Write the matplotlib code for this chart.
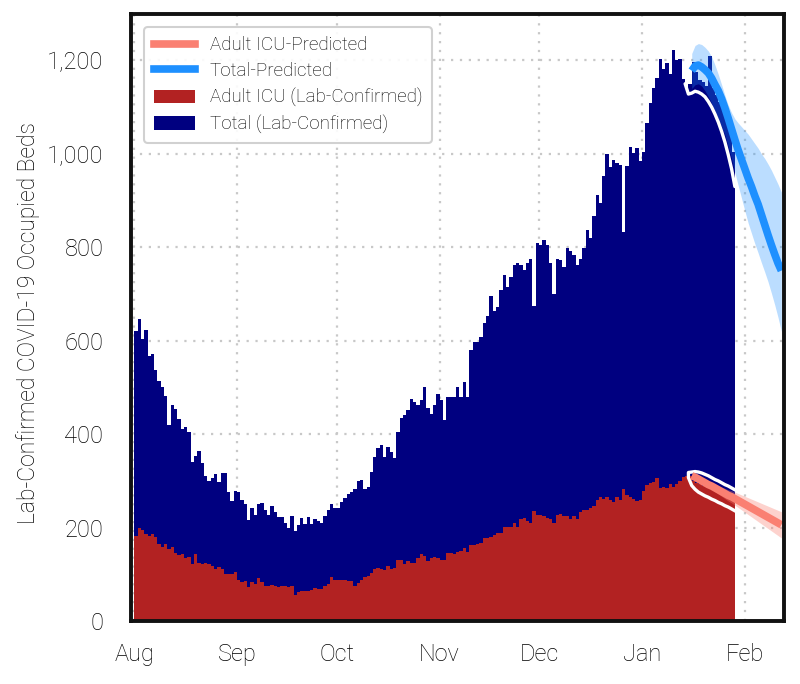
import matplotlib
matplotlib.use("Agg")
import matplotlib.pyplot as plt
import matplotlib.dates as mdates
import matplotlib.ticker as mticker
from matplotlib.lines import Line2D
from matplotlib.patches import Patch
import pandas as pd
import numpy as np

plt.rcParams['font.family'] = ['Roboto', 'DejaVu Sans']
plt.rcParams['font.weight'] = 'light'
plt.rcParams['axes.labelweight'] = 'light'

# ---------------- data ----------------
start_date = "2020-08-01"

total_confirmed = [
    621, 646, 603, 623, 567, 571, 538, 513, 502, 482,
    419, 462, 454, 432, 412, 415, 404, 341, 354, 363,
    339, 311, 300, 307, 314, 298, 316, 316, 277, 256,
    278, 276, 260, 251, 217, 243, 226, 251, 253, 237,
    226, 246, 233, 222, 222, 209, 200, 225, 193, 206,
    220, 208, 222, 207, 218, 215, 209, 224, 237, 251,
    242, 242, 255, 264, 271, 276, 283, 300, 301, 282,
    287, 318, 352, 370, 376, 352, 372, 361, 350, 404,
    435, 441, 451, 475, 468, 462, 473, 500, 455, 444,
    462, 487, 473, 430, 480, 480, 480, 502, 480, 511,
    480, 581, 598, 598, 607, 639, 654, 695, 663, 673,
    709, 740, 716, 737, 762, 767, 762, 751, 767, 774,
    675, 809, 805, 816, 805, 767, 699, 776, 773, 757,
    798, 792, 784, 763, 775, 798, 837, 820, 866, 911,
    894, 952, 999, 971, 987, 981, 977, 833, 974, 1015,
    1001, 1013, 985, 1005, 1067, 1108, 1141, 1163, 1204, 1182,
    1194, 1171, 1223, 1201, 1202, 1160, 1140, 1150, 1196, 1175,
    1157, 1153, 1146, 1210, 1140, 1125, 1110, 1095, 1080, 1060,
    1005,
]

icu_confirmed = [
    182, 199, 194, 186, 182, 186, 181, 165, 159, 164,
    155, 159, 146, 142, 144, 136, 137, 123, 144, 124,
    123, 124, 123, 117, 112, 116, 112, 100, 101, 100,
    105, 88, 83, 85, 72, 83, 80, 92, 83, 74,
    76, 78, 74, 72, 76, 74, 72, 74, 56, 63,
    65, 65, 65, 66, 71, 69, 69, 74, 80, 94,
    87, 87, 87, 87, 85, 85, 74, 81, 88, 94,
    97, 103, 112, 113, 112, 110, 117, 111, 113, 131,
    130, 123, 128, 124, 124, 134, 144, 139, 128, 136,
    137, 136, 131, 131, 146, 146, 144, 148, 150, 157,
    148, 162, 162, 166, 168, 177, 177, 181, 184, 188,
    188, 202, 202, 202, 209, 201, 218, 220, 215, 209,
    235, 227, 227, 225, 220, 219, 209, 227, 229, 224,
    224, 219, 224, 219, 233, 238, 238, 242, 246, 260,
    265, 262, 265, 260, 254, 265, 260, 283, 270, 265,
    262, 256, 260, 279, 291, 295, 297, 306, 284, 287,
    284, 293, 287, 294, 300, 308, 310, 310, 300, 296,
    293, 290, 288, 284, 280, 277, 274, 271, 268, 265,
    262,
]

pred_start = "2021-01-16"
total_pred = [1178, 1188, 1190, 1186, 1180, 1173, 1162, 1148, 1135, 1118,
              1098, 1076, 1053, 1030, 1008, 988, 968, 948, 930, 910,
              892, 870, 848, 826, 805, 785, 766, 750]
total_pred_hi = [1215, 1232, 1236, 1234, 1228, 1220, 1208, 1190, 1170, 1148,
                 1125, 1104, 1088, 1075, 1066, 1058, 1050, 1042, 1032, 1022,
                 1012, 1000, 990, 978, 965, 950, 935, 918]
total_pred_lo = [1140, 1148, 1150, 1145, 1135, 1122, 1108, 1092, 1075, 1058,
                 1040, 1015, 990, 960, 932, 905, 878, 852, 830, 808,
                 788, 767, 747, 726, 702, 677, 650, 620]
icu_pred = [311, 308, 304, 300, 296, 292, 289, 285, 281, 277,
            273, 269, 266, 262, 258, 254, 250, 246, 242, 238,
            234, 230, 226, 222, 218, 214, 210, 206]
icu_pred_hi = [312, 310, 307, 304, 301, 298, 296, 293, 290, 287,
               284, 281, 279, 276, 273, 270, 267, 264, 261, 258,
               255, 252, 249, 246, 243, 240, 237, 234]
icu_pred_lo = [310, 306, 301, 296, 291, 286, 282, 277, 272, 267,
               262, 257, 253, 248, 243, 238, 233, 228, 223, 218,
               213, 208, 203, 198, 193, 188, 183, 178]

# model fit outlines over the recent observed period
total_fit_start = "2021-01-14"
total_fit = [1150, 1128, 1130, 1134, 1132, 1128, 1122, 1112, 1100, 1085,
             1068, 1048, 1025, 998, 968, 930]
icu_fit_start = "2021-01-15"
icu_fit_upper = [318, 319, 320, 319, 317, 314, 311, 307, 303, 300,
                 296, 292, 289, 285, 281]
icu_fit_lower = [307, 290, 282, 276, 272, 268, 265, 261, 258, 254,
                 251, 247, 244, 240, 236]

y_ticks = [0, 200, 400, 600, 800, 1000, 1200]

# colours
NAVY = "#000080"
FIREBRICK = "#B22222"
SALMON = "#FA8072"
BLUE = "#1E90FF"
TXT = "#000000"

# ---------------- plot ----------------
dates = pd.date_range(start_date, periods=len(total_confirmed), freq="D")
pdates = pd.date_range(pred_start, periods=len(total_pred), freq="D")
tf_dates = pd.date_range(total_fit_start, periods=len(total_fit), freq="D")
if_dates = pd.date_range(icu_fit_start, periods=len(icu_fit_upper), freq="D")

fig = plt.figure(figsize=(8.0, 6.84), dpi=100)
ax = fig.add_axes([0.164, 0.092, 0.816, 0.888])

ax.bar(dates, total_confirmed, width=1.0, align="edge", color=NAVY, linewidth=0, zorder=2)
ax.bar(dates, icu_confirmed, width=1.0, align="edge", color=FIREBRICK, linewidth=0, zorder=2)

ax.fill_between(pdates, total_pred_lo, total_pred_hi, color=BLUE, alpha=0.3, linewidth=0, zorder=3)
ax.fill_between(pdates, icu_pred_lo, icu_pred_hi, color=SALMON, alpha=0.35, linewidth=0, zorder=3)

# white outlines of model fit
ax.plot(tf_dates, total_fit, color="white", lw=2.4, zorder=4, solid_capstyle="round")
loop_x = list(if_dates[::-1]) + list(if_dates)
loop_y = list(icu_fit_upper[::-1]) + list(icu_fit_lower)
ax.plot(loop_x, loop_y, color="white", lw=2.4, zorder=4, solid_joinstyle="round")

ax.plot(pdates, total_pred, color=BLUE, lw=5.5, zorder=5, solid_capstyle="butt")
ax.plot(pdates, icu_pred, color=SALMON, lw=5.5, zorder=5, solid_capstyle="butt")

# axes styling
x0 = pd.Timestamp(start_date) - pd.Timedelta(hours=22)
x1 = pd.Timestamp(start_date) + pd.Timedelta(days=195.8)
ax.set_xlim(x0, x1)
ax.set_ylim(0, 1300)
ax.set_yticks(y_ticks)
ax.yaxis.set_major_formatter(mticker.FuncFormatter(lambda v, p: f"{int(v):,}"))
ax.xaxis.set_major_locator(mdates.MonthLocator())
ax.xaxis.set_major_formatter(mdates.DateFormatter("%b"))

ax.set_axisbelow(True)
ax.grid(True, color="#c8c8c8", linestyle=(0, (1, 3)), linewidth=1.6)
for s in ax.spines.values():
    s.set_color("#111111")
    s.set_linewidth(2.8)
    s.set_zorder(10)
ax.tick_params(axis="both", length=0, labelsize=17, colors=TXT)
ax.tick_params(axis="y", pad=20)
ax.tick_params(axis="x", pad=16)

ax.set_ylabel("Lab-Confirmed COVID-19 Occupied Beds", fontsize=16.5, color=TXT,
              fontweight="light")
ax.yaxis.set_label_coords(-0.14, 0.49)

handles = [
    Line2D([0], [0], color=SALMON, lw=5.5),
    Line2D([0], [0], color=BLUE, lw=5.5),
    Patch(facecolor=FIREBRICK, edgecolor="none"),
    Patch(facecolor=NAVY, edgecolor="none"),
]
labels = ["Adult ICU-Predicted", "Total-Predicted",
          "Adult ICU (Lab-Confirmed)", "Total (Lab-Confirmed)"]
leg = ax.legend(handles, labels, loc="upper left", fontsize=13.5, frameon=True,
                framealpha=0.9, edgecolor="#cccccc", handlelength=2.2,
                borderaxespad=0.7, labelspacing=0.42, borderpad=0.5)
leg.get_frame().set_linewidth(1.5)
for t in leg.get_texts():
    t.set_color(TXT)

fig.savefig("out.png", dpi=100)
